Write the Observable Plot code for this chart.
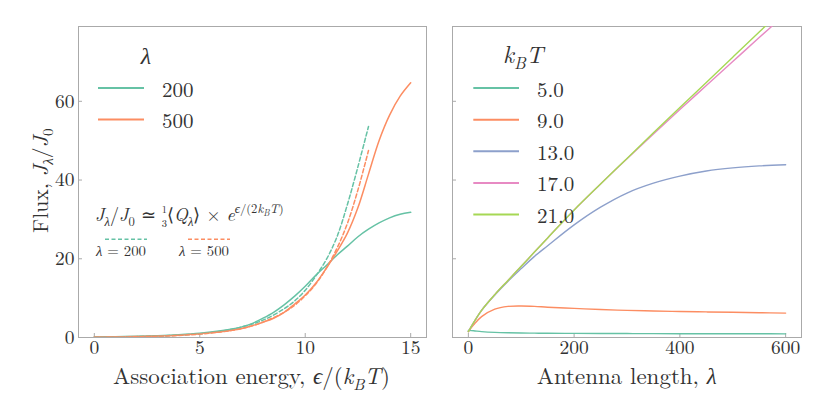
<!DOCTYPE html>
<html><head><meta charset="utf-8">
<script src="https://cdn.jsdelivr.net/npm/d3@7"></script>
<script src="https://cdn.jsdelivr.net/npm/@observablehq/plot@0.6"></script>
<style>
html,body{margin:0;padding:0;background:#fff;}
#wrap{position:relative;width:830px;height:415px;overflow:hidden;}
#wrap svg{position:absolute;top:0;}
</style></head><body><div id="wrap"></div>
<script>
// ---------- data ----------
const epsGrid   = [0,1,2,3,4,5,6,7,7.5,8,8.5,9,9.5,10,10.5,11,11.5,12,12.5,13,13.5,14,14.5,15];
const fluxL200  = [0.15,0.2,0.3,0.45,0.68,1.05,1.7,2.7,3.6,4.9,6.4,8.3,10.5,13.0,15.8,18.3,20.9,23.2,25.6,27.5,29.1,30.4,31.3,31.8];
const fluxL500  = [0.1,0.15,0.25,0.4,0.6,0.95,1.45,2.3,3.0,3.9,4.9,6.4,8.5,10.8,13.8,17.6,21.8,26.5,33.0,41.5,50.0,56.5,61.3,64.7];
const epsApprox = [0,1,2,3,4,5,6,7,8,9,9.5,10,10.5,11,11.5,12,12.5,13];
const approxL200 = [0.08,0.13,0.22,0.36,0.6,0.98,1.6,2.7,4.4,7.3,9.3,12.0,15.6,19.8,25.5,33.8,43.4,53.6];
const approxL500 = [0.07,0.12,0.19,0.32,0.52,0.86,1.42,2.3,3.9,6.4,8.2,10.6,13.6,17.6,22.6,29.0,37.5,47.5];

const lamGrid = [0,10,25,50,75,100,125,150,200,250,300,350,400,450,500,550,600];
const fluxR5  = [1.8,1.7,1.5,1.3,1.2,1.15,1.1,1.08,1.05,1.02,1.0,0.98,0.97,0.96,0.95,0.94,0.93];
const fluxR9  = [1.5,3.2,5.3,7.2,7.9,8.0,7.9,7.7,7.4,7.1,6.9,6.75,6.6,6.5,6.4,6.3,6.2];
const fluxR13 = [1.5,3.8,6.9,10.8,14.3,17.5,20.6,23.3,28.6,33.1,36.7,39.2,41.0,42.3,43.1,43.6,43.9];
const fluxR17 = [1.5,3.8,6.9,10.9,14.5,18.1,21.7,25.3,32.4,39.0,45.4,51.7,57.9,64.0,70.1,76.2,82.2];
const fluxR21 = [1.5,3.8,6.9,10.9,14.5,18.1,21.7,25.3,32.4,39.0,45.5,52.0,58.4,64.8,71.2,77.6,84.0];

const lambdaLabels = ["200","500"];
const kTLabels = ["5.0","9.0","13.0","17.0","21.0"];
const palette = ["#66c2a5","#fc8d62","#8da0cb","#e78ac3","#a6d854"];
const xTicksL = [0,5,10,15];
const xTicksR = [0,200,400,600];
const yTicks = [0,20,40,60];

// ---------- font pick (first installed serif) ----------
function pickFont(cands) {
  const c = document.createElement("canvas").getContext("2d");
  const test = "Association energy 0123456789 mmmwwwlliiAQ";
  for (const f of cands) {
    let ok = false;
    for (const base of ["monospace", "sans-serif", "serif"]) {
      c.font = `20px ${base}`; const w0 = c.measureText(test).width;
      c.font = `20px '${f}', ${base}`; const w1 = c.measureText(test).width;
      if (Math.abs(w1 - w0) > 0.5) ok = true;
    }
    if (ok) return `'${f}', serif`;
  }
  return "serif";
}
const FONT = pickFont(["Latin Modern Roman","CMU Serif","Liberation Serif","DejaVu Serif","Noto Serif","Tinos","Times New Roman","FreeSerif"]);
const TXT = "#333";
const GRID = "#aaa";

// ---------- build tables ----------
const toRows = (xs, ys) => xs.map((x,i) => ({x, y: ys[i]}));
const leftSolid = [fluxL200, fluxL500].map(s => toRows(epsGrid, s));
const leftDash  = [approxL200, approxL500].map(s => toRows(epsApprox, s));
const rightSeries = [fluxR5, fluxR9, fluxR13, fluxR17, fluxR21].map(s => toRows(lamGrid, s));

const axisOpts = {tickSize: -4, stroke: GRID, fill: TXT, label: null, fontSize: 19.5};

const left = Plot.plot({
  width: 430, height: 415, marginLeft: 78, marginRight: 4, marginTop: 26, marginBottom: 78,
  style: {fontFamily: FONT, fontSize: "20px", color: TXT, background: "transparent", overflow: "visible"},
  x: {domain: [-0.75, 15.75]},
  y: {domain: [0, 79]},
  marks: [
    Plot.frame({stroke: GRID}),
    Plot.axisX({...axisOpts, ticks: xTicksL, tickPadding: 7}),
    Plot.axisY({...axisOpts, ticks: yTicks, tickPadding: 8}),
    ...leftSolid.map((d,i) => Plot.line(d, {x:"x", y:"y", stroke: palette[i], strokeWidth: 1.5, curve: "catmull-rom", clip: true})),
    ...leftDash.map((d,i) => Plot.line(d, {x:"x", y:"y", stroke: palette[i], strokeWidth: 1.5, strokeDasharray: "4,2.5", curve: "catmull-rom", clip: true}))
  ]
});

const right = Plot.plot({
  width: 400, height: 415, marginLeft: 22, marginRight: 29, marginTop: 26, marginBottom: 78,
  style: {fontFamily: FONT, fontSize: "20px", color: TXT, background: "transparent", overflow: "visible"},
  x: {domain: [-30, 630]},
  y: {domain: [0, 79]},
  marks: [
    Plot.frame({stroke: GRID}),
    Plot.axisX({...axisOpts, ticks: xTicksR, tickPadding: 7}),
    Plot.axisY({...axisOpts, ticks: yTicks, tickPadding: 8, tickFormat: () => ""}),
    ...rightSeries.map((d,i) => Plot.line(d, {x:"x", y:"y", stroke: palette[i], strokeWidth: 1.4, curve: "catmull-rom", clip: true}))
  ]
});

const wrap = document.getElementById("wrap");
left.style.left = "0px";
right.style.left = "430px";
wrap.appendChild(left);
wrap.appendChild(right);

// ---------- math-ish text helper ----------
// segment: {t, it (italic), o (vertical offset in em of base), s (scale), dx}
function mathText(sel, segs, size, attrs) {
  const t = sel.append("text").attr("font-size", size).attr("fill", TXT)
    .attr("font-family", FONT).attr("text-anchor", "start");
  for (const k in attrs) t.attr(k, attrs[k]);
  let shift = 0;
  for (const g of segs) {
    const target = (g.o || 0) * size;
    const sp = t.append("tspan").text(g.t).attr("dy", target - shift);
    shift = target;
    if (g.it) sp.attr("font-style", "italic");
    if (g.s) sp.attr("font-size", size * g.s);
    if (g.dx) sp.attr("dx", g.dx * size);
  }
  return t;
}
// place a text so its box has a given width; anchor "middle" or "start"; rot in degrees
function fitText(sel, segs, size, {x, y, width, anchor = "middle", rot = 0}) {
  const g = sel.append("g");
  const t = mathText(g, segs, size, {x: 0, y: 0});
  const bb = t.node().getBBox();
  const f = width / bb.width;
  const ox = anchor === "middle" ? -(bb.x + bb.width / 2) : -bb.x;
  g.attr("transform", `translate(${x},${y}) rotate(${rot}) scale(${f}) translate(${ox},0)`);
  return g;
}

const L = d3.select(left), R = d3.select(right);

// axis labels
fitText(L, [{t:"Association energy, "},{t:"ϵ",it:1},{t:"/("},{t:"k",it:1},{t:"B",it:1,o:0.25,s:0.7},{t:"T",it:1},{t:")"}], 23,
  {x: 251.5, y: 384, width: 277});
fitText(L, [{t:"Flux, "},{t:"J",it:1},{t:"λ",it:1,o:0.25,s:0.7},{t:"/"},{t:"J",it:1},{t:"0",o:0.25,s:0.7}], 22,
  {x: 48, y: 180.5, width: 105, rot: -90});
fitText(R, [{t:"Antenna length, "},{t:"λ",it:1}], 23,
  {x: 196.7, y: 384, width: 180});

// left legend
mathText(L, [{t:"λ",it:1}], 24, {x: 146, y: 64, "text-anchor": "middle"});
lambdaLabels.forEach((lab,i) => {
  const yy = 88 + i*31.6;
  L.append("line").attr("x1",98).attr("x2",144).attr("y1",yy).attr("y2",yy)
    .attr("stroke", palette[i]).attr("stroke-width", 2);
  mathText(L, [{t: lab}], 21, {x: 162, y: yy + 8.5});
});

// annotation
fitText(L, [{t:"J",it:1},{t:"λ",it:1,o:0.25,s:0.7},{t:"/"},{t:"J",it:1},{t:"0",o:0.25,s:0.7},
  {t:" ≃ "},{t:"1",o:-0.43,s:0.58},{t:"3",o:0.33,s:0.58,dx:-0.29},{t:"⟨"},{t:"Q",it:1},{t:"λ",it:1,o:0.25,s:0.7},{t:"⟩ × "},{t:"e",it:1},
  {t:"ϵ",it:1,o:-0.45,s:0.7},{t:"/(2",o:-0.45,s:0.7},{t:"k",it:1,o:-0.45,s:0.7},{t:"B",it:1,o:-0.3,s:0.5},
  {t:"T",it:1,o:-0.45,s:0.7},{t:")",o:-0.45,s:0.7}], 16, {x: 95, y: 221, width: 188, anchor: "start"});
[[105,147],[188,230]].forEach(([a,b],i) => {
  L.append("line").attr("x1",a).attr("x2",b).attr("y1",239.3).attr("y2",239.3)
    .attr("stroke", palette[i]).attr("stroke-width", 1.5).attr("stroke-dasharray","4,2.5");
});
fitText(L, [{t:"λ",it:1},{t:" = "+lambdaLabels[0]}], 15, {x: 95, y: 256, width: 51, anchor: "start"});
fitText(L, [{t:"λ",it:1},{t:" = "+lambdaLabels[1]}], 15, {x: 178, y: 256, width: 51, anchor: "start"});

// right legend (coordinates relative to right svg, offset 430)
mathText(R, [{t:"k",it:1},{t:"B",it:1,o:0.25,s:0.7},{t:"T",it:1}], 24, {x: 73, y: 63});
kTLabels.forEach((lab,i) => {
  const yy = 88 + i*31.65;
  R.append("line").attr("x1",43.3).attr("x2",89).attr("y1",yy).attr("y2",yy)
    .attr("stroke", palette[i]).attr("stroke-width", 2);
  mathText(R, [{t: lab}], 21, {x: 107, y: yy + 8.5});
});
</script></body></html>
